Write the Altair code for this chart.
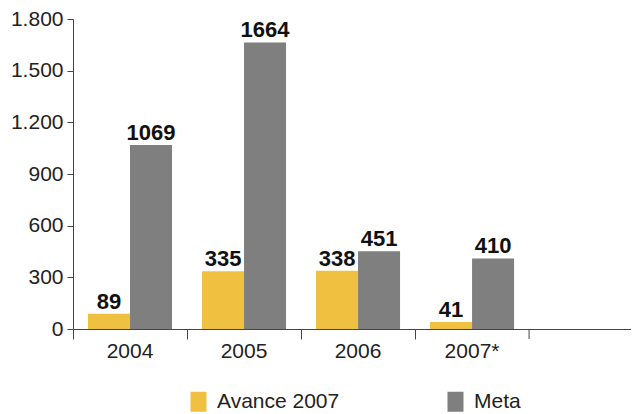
import altair as alt
import pandas as pd

categories = ["2004", "2005", "2006", "2007*"]
avance = [89, 335, 338, 41]
meta = [1069, 1664, 451, 410]
series = ["Avance 2007", "Meta"]
colors = ["#F0C040", "#7F7F80"]
y_ticks = [0, 300, 600, 900, 1200, 1500, 1800]

rows = []
for c, a, m in zip(categories, avance, meta):
    rows.append({"year": c, "serie": series[0], "value": a})
    rows.append({"year": c, "serie": series[1], "value": m})
df = pd.DataFrame(rows)
last = pd.DataFrame({"year": [categories[-1]]})

FONT = "Liberation Sans"
W, H = 558, 310
x_scale = alt.Scale(domain=categories, paddingInner=0, paddingOuter=0.447, align=0)
x_axis = alt.Axis(
    title=None, labelAngle=0, tickSize=10, bandPosition=0,
    labelFontSize=21, labelFont=FONT, labelColor="#222",
    labelPadding=1, domainColor="#444", tickColor="#444",
)
x = alt.X("year:N", scale=x_scale, sort=categories, axis=x_axis)
xo = alt.XOffset(
    "serie:N",
    scale=alt.Scale(domain=series, paddingInner=0, paddingOuter=0.357),
)
y = alt.Y(
    "value:Q",
    scale=alt.Scale(domain=[0, 1800], nice=False),
    axis=alt.Axis(
        title=None, values=y_ticks, grid=False, tickSize=6,
        labelFontSize=21, labelFont=FONT, labelColor="#222",
        labelPadding=4, domainColor="#444", tickColor="#444",
        labelExpr="replace(format(datum.value, ','), ',', '.')",
    ),
)

bars = alt.Chart(df).mark_bar().encode(
    x=x, xOffset=xo, y=y,
    color=alt.Color(
        "serie:N",
        scale=alt.Scale(domain=series, range=colors),
        legend=alt.Legend(
            title=None, orient="none", legendX=115, legendY=372,
            direction="horizontal",
            symbolType="M-0.8,-1H0.8V1H-0.8Z", symbolSize=400,
            symbolStrokeWidth=0, labelFontSize=21, labelFont=FONT,
            labelColor="#222", labelOffset=8, columnPadding=105,
            padding=0,
        ),
    ),
)

labels = alt.Chart(df).mark_text(
    font=FONT, fontSize=22, fontWeight="bold", color="#111",
    baseline="alphabetic", dy=-5,
).encode(x=x, xOffset=xo, y=y, text="value:Q")

# closing tick at the end of the last category band
end_tick = alt.Chart(last).mark_rule(color="#444", strokeWidth=1).encode(
    x=alt.X("year:N", scale=x_scale, sort=categories, axis=x_axis, bandPosition=1),
    y=alt.value(H),
    y2=alt.value(H + 10),
)

chart = alt.layer(bars, labels, end_tick).properties(
    width=W, height=H,
    autosize=alt.AutoSizeParams(type="none"),
    padding={"left": 65, "top": 11, "right": 0, "bottom": 85},
).configure_view(stroke=None)

chart.save("out.html", embed_options={"renderer": "svg", "actions": False})
